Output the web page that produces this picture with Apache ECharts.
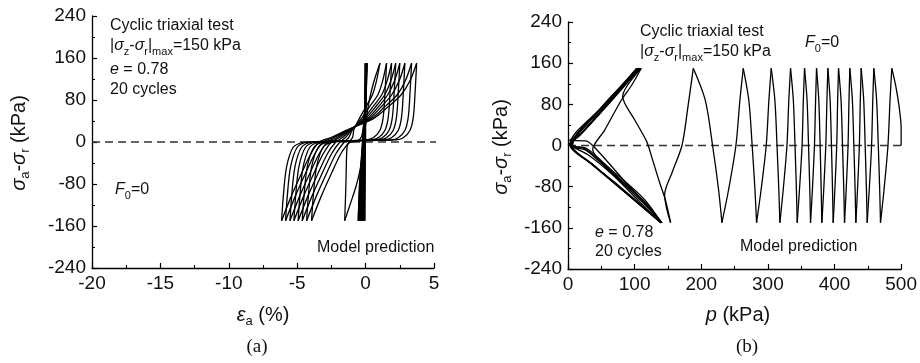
<!DOCTYPE html>
<html>
<head>
<meta charset="utf-8">
<script src="https://cdn.jsdelivr.net/npm/echarts@6/dist/echarts.min.js"></script>
<style>
  html, body { margin: 0; padding: 0; background: #fff; }
  #chart { width: 920px; height: 363px; }
</style>
</head>
<body>
<div id="chart"></div>
<script>
// Axis ranges and tick spacing
const strainRange = [-20, 5, 5];       // min, max, interval (%)
const pRange = [0, 500, 100];          // min, max, interval (kPa)
const deviatorRange = [-240, 240, 80]; // min, max, interval (kPa)

// (a) axial strain (%) vs deviator stress (kPa), in loading order
const strainPath = [
  // first loading and the stiff early cycles
  [0,0],[0.0,75],[-0.03,150],
  [-0.06,75],[-0.08,0],[-0.07,-75],[-0.06,-150],
  [-0.03,-75],[-0.02,0],[-0.01,75],[0.0,150],
  [-0.05,75],[-0.1,0],[-0.12,-75],[-0.12,-150],
  [-0.08,-75],[-0.05,0],[0.0,75],[0.02,150],
  [-0.04,75],[-0.12,0],[-0.17,-75],[-0.18,-150],
  [-0.13,-75],[-0.07,0],[0.0,75],[0.04,150],
  [-0.03,75],[-0.13,0],[-0.21,-75],[-0.24,-150],
  [-0.18,-75],[-0.09,0],[0.01,75],[0.05,150],
  [-0.03,75],[-0.15,0],[-0.26,-75],[-0.3,-150],
  [-0.23,-75],[-0.11,0],[0.01,75],[0.06,150],
  [-0.03,75],[-0.17,0],[-0.3,-75],[-0.36,-150],
  [-0.28,-75],[-0.13,0],[0.01,75],[0.07,150],
  [-0.03,75],[-0.19,0],[-0.34,-75],[-0.42,-150],
  [-0.33,-75],[-0.15,0],[0.02,75],[0.08,150],
  [-0.03,75],[-0.21,0],[-0.38,-75],[-0.48,-150],
  [-0.38,-75],[-0.17,0],[0.02,75],[0.09,150],
  [-0.03,75],[-0.23,0],[-0.42,-75],[-0.54,-150],
  [-0.43,-75],[-0.19,0],[0.02,75],[0.1,150],
  // onset of large strains
  [0.0,90],[-0.12,40],[-0.3,10],[-0.6,2],[-1.0,0],[-1.3,-4],[-1.38,-20],[-1.43,-70],[-1.48,-115],[-1.53,-150],
  [-1.25,-128],[-0.95,-105],[-0.65,-80],[-0.4,-52],[-0.2,-20],[-0.05,20],[0.2,70],[0.55,110],[0.85,135],[1.05,150],
  // cyclic mobility loops
  [0.8,117],[0.5,90],[0.0,66],[-0.45,45],[-0.85,24],[-0.95,9],[-1.2,0],[-1.8,-22],[-2.5,-60],[-3.27,-105],[-3.95,-150],
  [-3.83,-105],[-3.59,-48],[-3.1,-10],[-2.35,0],[0.03,4],[0.55,8],[1.04,22],[1.29,48],[1.43,100],[1.53,150],
  [1.25,117],[0.9,90],[0.25,66],[-0.3,45],[-0.95,24],[-1.22,9],[-1.56,0],[-2.16,-22],[-2.86,-60],[-3.63,-105],[-4.31,-150],
  [-4.19,-105],[-3.95,-48],[-3.46,-10],[-2.71,0],[0.4,4],[0.92,8],[1.41,22],[1.66,48],[1.8,100],[1.9,150],
  [1.58,117],[1.18,90],[0.5,66],[-0.15,45],[-1.0,24],[-1.45,9],[-1.88,0],[-2.48,-22],[-3.18,-60],[-3.95,-105],[-4.63,-150],
  [-4.51,-105],[-4.27,-48],[-3.78,-10],[-3.03,0],[0.7,4],[1.22,8],[1.71,22],[1.96,48],[2.1,100],[2.2,150],
  [1.85,117],[1.4,90],[0.7,66],[0.0,45],[-1.05,24],[-1.66,9],[-2.18,0],[-2.78,-22],[-3.48,-60],[-4.25,-105],[-4.93,-150],
  [-4.81,-105],[-4.57,-48],[-4.08,-10],[-3.33,0],[1.0,4],[1.52,8],[2.01,22],[2.26,48],[2.4,100],[2.5,150],
  [2.12,117],[1.62,90],[0.9,66],[0.15,45],[-1.1,24],[-1.87,9],[-2.49,0],[-3.09,-22],[-3.79,-60],[-4.56,-105],[-5.24,-150],
  [-5.12,-105],[-4.88,-48],[-4.39,-10],[-3.64,0],[1.37,4],[1.89,8],[2.38,22],[2.63,48],[2.77,100],[2.87,150],
  [2.46,117],[1.91,90],[1.1,66],[0.3,45],[-1.15,24],[-2.07,9],[-2.78,0],[-3.38,-22],[-4.08,-60],[-4.85,-105],[-5.53,-150],
  [-5.41,-105],[-5.17,-48],[-4.68,-10],[-3.93,0],[1.86,4],[2.38,8],[2.87,22],[3.12,48],[3.26,100],[3.36,150],
  [2.91,117],[2.31,90],[1.35,66],[0.45,45],[-1.2,24],[-2.3,9],[-3.1,0],[-3.7,-22],[-4.4,-60],[-5.17,-105],[-5.85,-150],
  [-5.73,-105],[-5.49,-48],[-5.0,-10],[-4.25,0],[2.23,4],[2.75,8],[3.24,22],[3.49,48],[3.63,100],[3.73,150],
  [3.25,117],[2.6,90],[1.6,66],[0.6,45],[-1.25,24],[-2.5,9],[-3.39,0],[-3.99,-22],[-4.69,-60],[-5.46,-105],[-6.14,-150],
  [-6.02,-105],[-5.78,-48],[-5.29,-10],[-4.54,0]
];

// (b) mean stress p (kPa) vs deviator stress (kPa), in loading order
const pPath = [
  // early cycles close to the origin
  [0,0],[52,75],[103,150],
  [60,84],[20,24],[3,1],[35,-36],[72,-76],[139,-150],
  [108,-110],[66,-56],[30,-18],[6,-2],[3,2],[54,78],[105,150],
  [62,86],[22,26],[4,2],[38,-38],[75,-79],[140,-150],
  [112,-106],[62,-47],[25,-6],[5,1],[50,74],[106,150],
  [64,88],[20,24],[2,10],[27,9],[40,-4],[80,-62],[141,-150],
  [110,-108],[64,-52],[28,-10],[6,0],[55,80],[107,150],
  [62,84],[18,20],[4,2],[36,-36],[74,-78],[140,-150],
  [114,-104],[64,-46],[27,-5],[7,1],[52,76],[108,150],
  [66,88],[24,28],[5,2],[40,-40],[78,-80],[141,-150],
  [112,-106],[62,-47],[37,-8],[55,30],[80,88],[96,118],[110,150],
  [82,95],[100,50],[118,8],[127,-28],[137,-70],[146,-105],[154,-150],
  [148,-122],[145,-96],[157,-50],[171,0],[180,75],[188,150],
  // widening cycles
  [206,88],[217,0],[226,-86],[231,-150],
  [241,-86],[252,0],[258,88],[263,150],
  [271.4,88],[276.4,0],[280.6,-86],[283,-150],
  [289.8,-86],[297.5,0],[301.5,88],[305,150],
  [310.5,88],[313.7,0],[316.4,-86],[318,-150],
  [323,-86],[328.6,0],[331.4,88],[334,150],
  [338.2,88],[340.7,0],[342.8,-86],[344,-150],
  [347.4,-86],[351.3,0],[353.2,88],[355,150],
  [358.8,88],[361,0],[362.9,-86],[364,-150],
  [366.8,-86],[369.9,0],[371.6,88],[373,150],
  [376.4,88],[378.4,0],[380,-86],[381,-150],
  [383.8,-86],[386.9,0],[388.6,88],[390,150],
  [393.4,88],[395.4,0],[397,-86],[398,-150],
  [400.5,-86],[403.3,0],[404.7,88],[406,150],
  [409.8,88],[412,0],[413.9,-86],[415,-150],
  [417.5,-86],[420.3,0],[421.7,88],[423,150],
  [426.8,88],[429,0],[430.9,-86],[432,-150],
  [434.5,-86],[437.3,0],[438.7,88],[440,150],
  [443.8,88],[446,0],[447.9,-86],[449,-150],
  [452.1,-86],[455.6,0],[457.4,88],[459,150],
  [463.2,88],[465.7,0],[467.8,-86],[469,-150],
  [474.3,-86],[480.2,0],[483.3,88],[486,150],
  [492,115],[497,75],[500,34],[500,0]
];

// Reference lines at zero deviator stress
const zeroLineA = [[-20, 0], [5.2, 0]];
const zeroLineB = [[0, 0], [513, 0]];

const FONT = '"Liberation Sans", Arial, sans-serif';
const SERIF = '"Liberation Serif", "Times New Roman", serif';
const INK = '#111';

// Split a loading path into branches between stress reversals (|q| = 150)
function branches(path) {
  const out = [];
  let cur = [path[0]];
  for (let i = 1; i < path.length; i++) {
    cur.push(path[i]);
    if (Math.abs(path[i][1]) >= 150 && i < path.length - 1) {
      out.push(cur);
      cur = [path[i]];
    }
  }
  out.push(cur);
  return out;
}

function curveSeries(path, idx) {
  return branches(path).map(b => ({
    type: 'line', xAxisIndex: idx, yAxisIndex: idx, data: b,
    smooth: 0.3, symbol: 'none', silent: true, z: 3,
    lineStyle: { color: '#000', width: 1.3 }
  }));
}

function zeroSeries(data, idx) {
  return {
    type: 'line', xAxisIndex: idx, yAxisIndex: idx, data: data,
    symbol: 'none', silent: true, clip: false, z: 2,
    lineStyle: { color: '#333', width: 1.6, type: [8, 5] }
  };
}

function valueAxis(range, gridIndex) {
  return {
    type: 'value', gridIndex: gridIndex,
    min: range[0], max: range[1], interval: range[2],
    axisLine: { show: true, onZero: false, lineStyle: { color: '#000', width: 1.3 } },
    axisTick: { show: true, inside: true, length: 5, lineStyle: { color: '#000', width: 1.2 } },
    minorTick: { show: true, splitNumber: 2, length: 3, lineStyle: { color: '#000', width: 1.1 } },
    splitLine: { show: false },
    minorSplitLine: { show: false },
    axisLabel: { fontSize: 19, fontFamily: FONT, color: INK, margin: 6 }
  };
}

// Rich-text styles shared by the annotations
const richStyles = {
  i: { fontStyle: 'italic', fontSize: 16, fontFamily: FONT, fill: INK, verticalAlign: 'middle', lineHeight: 22 },
  s: { fontSize: 11, fontFamily: FONT, fill: INK, verticalAlign: 'bottom', lineHeight: 22 },
  I: { fontStyle: 'italic', fontSize: 20, fontFamily: FONT, fill: INK, verticalAlign: 'middle', lineHeight: 26 },
  S: { fontSize: 13, fontFamily: FONT, fill: INK, verticalAlign: 'bottom', lineHeight: 26 },
  N: { fontSize: 20, fontFamily: FONT, fill: INK, verticalAlign: 'middle', lineHeight: 26 }
};

function label(x, y, text, opts) {
  opts = opts || {};
  return {
    type: 'text', x: x, y: y, rotation: opts.rotation || 0, silent: true,
    style: {
      text: text, fill: INK, font: (opts.size || 16) + 'px ' + (opts.family || FONT),
      textAlign: opts.align || 'left', textVerticalAlign: 'middle',
      rich: richStyles
    }
  };
}

const chart = echarts.init(document.getElementById('chart'), null, { renderer: 'canvas' });

chart.setOption({
  animation: false,
  backgroundColor: '#fff',
  grid: [
    { left: 92, top: 16, width: 342, height: 252 },
    { left: 568, top: 22, width: 336, height: 247 }
  ],
  xAxis: [valueAxis(strainRange, 0), valueAxis(pRange, 1)],
  yAxis: [valueAxis(deviatorRange, 0), valueAxis(deviatorRange, 1)],
  series: [
    zeroSeries(zeroLineA, 0),
    zeroSeries(zeroLineB, 1)
  ].concat(curveSeries(strainPath, 0), curveSeries(pPath, 1)),
  graphic: [
    // panel (a) annotations
    label(110, 26, 'Cyclic triaxial test'),
    label(110, 46, '|{i|σ}{s|z}-{i|σ}{s|r}|{s|max}=150 kPa'),
    label(110, 70, '{i|e} = 0.78'),
    label(110, 90, '20 cycles'),
    label(115, 190, '{i|F}{s|0}=0'),
    label(317, 248, 'Model prediction'),
    // panel (a) axis titles and caption
    label(19, 143, '{I|σ}{S|a}{N|-}{I|σ}{S|r}{N| (kPa)}', { rotation: Math.PI / 2, align: 'center', size: 20 }),
    label(263, 315, '{I|ε}{S|a}{N| (%)}', { align: 'center', size: 20 }),
    label(257, 347, '(a)', { align: 'center', size: 19, family: SERIF }),
    // panel (b) annotations
    label(640, 32, 'Cyclic triaxial test'),
    label(640, 52, '|{i|σ}{s|z}-{i|σ}{s|r}|{s|max}=150 kPa'),
    label(805, 43, '{i|F}{s|0}=0'),
    label(595, 233, '{i|e} = 0.78'),
    label(595, 252, '20 cycles'),
    label(740, 247, 'Model prediction'),
    // panel (b) axis titles and caption
    label(501, 147, '{I|σ}{S|a}{N|-}{I|σ}{S|r}{N| (kPa)}', { rotation: Math.PI / 2, align: 'center', size: 20 }),
    label(738, 315, '{I|p}{N| (kPa)}', { align: 'center', size: 20 }),
    label(747, 347, '(b)', { align: 'center', size: 19, family: SERIF })
  ]
});
</script>
</body>
</html>
